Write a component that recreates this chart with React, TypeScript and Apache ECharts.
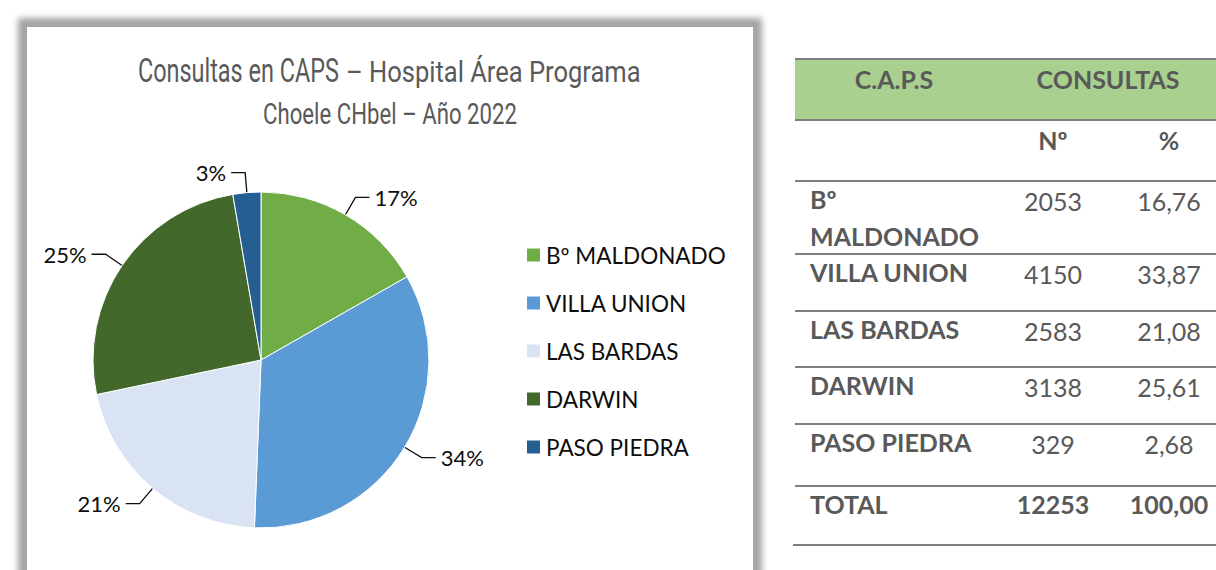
import React, { useEffect, useRef } from 'react';
import * as echarts from 'echarts';

// ---- data ----
const capsNames = ['Bº MALDONADO', 'VILLA UNION', 'LAS BARDAS', 'DARWIN', 'PASO PIEDRA'];
const consultas = [2053, 4150, 2583, 3138, 329];
const porcentajes = [16.76, 33.87, 21.08, 25.61, 2.68];
const totalPorcentaje = 100.0;
const sliceColors = ['#70ad47', '#5b9bd5', '#dae3f3', '#43682b', '#255e91'];
const titleMain = 'Consultas en CAPS';
const titleSub = '– Hospital Área Programa';
const titleLine2 = 'Choele CHbel – Año 2022';
const headerCaps = 'C.A.P.S';
const headerConsultas = 'CONSULTAS';
const headerNum = 'Nº';
const headerPct = '%';
const totalLabel = 'TOTAL';

// ---- layout (page px) ----
const TABLE_LEFT = 795;
const TABLE_RIGHT = 1216;
const LINES_Y = [59, 120, 181, 254, 311, 367, 424, 486, 545];
const COL_LABEL_X = 810;
const COL_CAPS_X = 894;
const COL_CONS_X = 1108;
const COL_NUM_X = 1053;
const COL_PCT_X = 1169;
const TEXT_GREY = '#595959';

const fmtPct = (v: number) => v.toFixed(2).replace('.', ',');

export default function App() {
  const ref = useRef<HTMLDivElement>(null);

  useEffect(() => {
    if (!ref.current) return;
    const chart = echarts.init(ref.current, undefined, { renderer: 'svg' });

    const total = consultas.reduce((a, b) => a + b, 0);
    const graphics: any[] = [];

    // Title
    graphics.push({
      type: 'text',
      x: 339,
      y: 70,
      scaleX: 0.69,
      style: {
        text: titleMain,
        textAlign: 'right',
        textVerticalAlign: 'middle',
        fontSize: 34,
        fontFamily: 'Roboto',
        fill: TEXT_GREY,
      },
    });
    graphics.push({
      type: 'text',
      x: 346,
      y: 72,
      scaleX: 0.88,
      style: {
        text: titleSub,
        textAlign: 'left',
        textVerticalAlign: 'middle',
        fontSize: 29,
        fontFamily: 'Roboto',
        fill: TEXT_GREY,
      },
    });
    graphics.push({
      type: 'text',
      x: 390,
      y: 114,
      scaleX: 0.74,
      style: {
        text: titleLine2,
        textAlign: 'center',
        textVerticalAlign: 'middle',
        fontSize: 30,
        fontFamily: 'Roboto',
        fill: TEXT_GREY,
      },
    });

    // Table header background
    graphics.push({
      type: 'rect',
      shape: { x: TABLE_LEFT, y: LINES_Y[0], width: TABLE_RIGHT - TABLE_LEFT, height: LINES_Y[1] - LINES_Y[0] },
      style: { fill: '#a9d08e' },
    });
    // Table lines
    LINES_Y.forEach((y, i) => {
      const x0 = i === LINES_Y.length - 1 ? TABLE_LEFT - 2 : TABLE_LEFT;
      graphics.push({
        type: 'rect',
        shape: { x: x0, y: y - 1, width: TABLE_RIGHT - x0, height: 2 },
        style: { fill: '#7f7f7f' },
      });
    });

    const boldFont = { fontFamily: 'Lato', fontWeight: 'bold', fontSize: 25, fill: TEXT_GREY };
    const normFont = { fontFamily: 'Lato', fontWeight: 'normal', fontSize: 25, fill: TEXT_GREY };
    const cText = (text: string, x: number, y: number, f: any, align = 'center') => ({
      type: 'text',
      x,
      y,
      style: { text, textAlign: align, textVerticalAlign: 'middle', ...f },
    });

    graphics.push(cText(headerCaps, COL_CAPS_X, 79, boldFont));
    graphics.push(cText(headerConsultas, COL_CONS_X, 79, boldFont));
    graphics.push(cText(headerNum, COL_NUM_X, 140, boldFont));
    graphics.push(cText(headerPct, COL_PCT_X, 140, boldFont));

    capsNames.forEach((name, i) => {
      const top = LINES_Y[i + 2];
      const y = top + 19.5;
      graphics.push({
        type: 'text',
        x: COL_LABEL_X,
        y: y - 20,
        style: {
          text: name,
          width: 175,
          overflow: 'break',
          lineHeight: 37,
          textAlign: 'left',
          textVerticalAlign: 'top',
          ...boldFont,
        },
      });
      graphics.push(cText(String(consultas[i]), COL_NUM_X, y, normFont));
      graphics.push(cText(fmtPct(porcentajes[i]), COL_PCT_X, y, normFont));
    });
    const totalY = LINES_Y[7] + 18;
    graphics.push(cText(totalLabel, COL_LABEL_X, totalY, boldFont, 'left'));
    graphics.push(cText(String(total), COL_NUM_X, totalY, boldFont));
    graphics.push(cText(fmtPct(totalPorcentaje), COL_PCT_X, totalY, boldFont));

    chart.setOption({
      animation: false,
      backgroundColor: 'transparent',
      color: sliceColors,
      legend: {
        orient: 'vertical',
        left: 520,
        top: 238,
        icon: 'rect',
        itemWidth: 15,
        itemHeight: 15,
        itemGap: 24,
        textStyle: { fontFamily: 'Lato', fontSize: 22.5, lineHeight: 24, color: '#0d0d0d' },
        data: capsNames,
      },
      series: [
        {
          type: 'pie',
          center: [261, 360],
          radius: 168,
          startAngle: 90,
          clockwise: true,
          percentPrecision: 0,
          itemStyle: { borderColor: '#ffffff', borderWidth: 1 },
          label: {
            show: true,
            position: 'outside',
            formatter: '{d}%',
            fontFamily: 'Lato',
            fontSize: 22,
            color: '#0d0d0d',
          },
          labelLine: {
            show: true,
            length: 20,
            length2: 14,
            lineStyle: { color: '#0d0d0d', width: 1.3 },
          },
          data: capsNames.map((n, i) => ({ name: n, value: consultas[i] })),
        },
      ],
      graphic: graphics,
    });

    return () => chart.dispose();
  }, []);

  return (
    <div style={{ position: 'fixed', left: 0, top: 0, width: 1216, height: 570, overflow: 'hidden', background: '#fff' }}>
      <div
        style={{
          position: 'absolute',
          left: 27,
          top: 27,
          width: 726,
          height: 640,
          background: '#fff',
          boxShadow: '0 0 6px 9px #a5a5a5',
        }}
      />
      <div ref={ref} style={{ position: 'absolute', left: 0, top: 0, width: 1216, height: 570 }} />
    </div>
  );
}
